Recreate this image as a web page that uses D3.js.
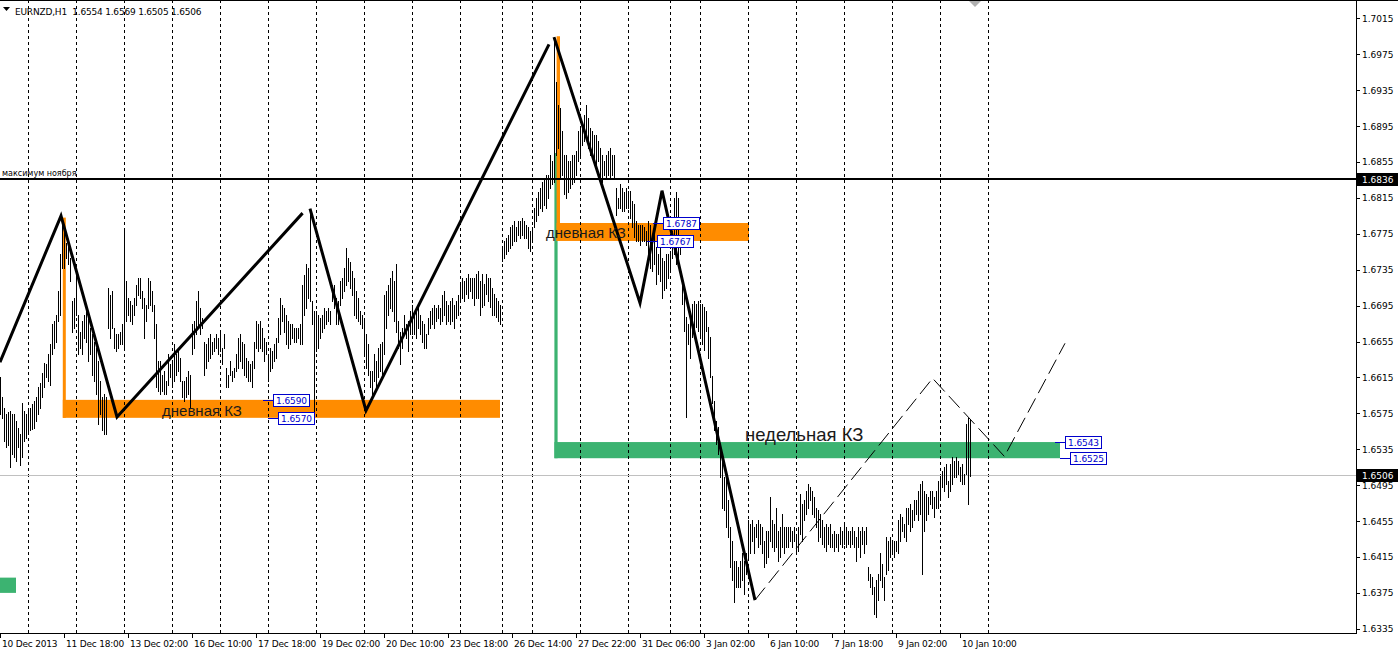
<!DOCTYPE html>
<html><head><meta charset="utf-8">
<script src="https://cdn.jsdelivr.net/npm/d3@7/dist/d3.min.js"></script>
<style>
html,body{margin:0;padding:0;background:#fff;overflow:hidden}
svg{display:block}
</style></head><body>
<script>
// ---------------- data ----------------
const chartTitle = "EURNZD,H1  1.6554 1.6569 1.6505 1.6506";

const barHigh = [
1.6615,1.6593,1.6581,1.6574,1.6576,1.6578,1.6574,1.6574,1.6567,1.6559,
1.6552,1.6587,1.6578,1.6574,1.6578,1.6581,1.6585,1.6589,1.6593,1.6604,
1.6609,1.6620,1.6631,1.6630,1.6641,1.6652,1.6674,1.6678,1.6685,1.6711,
1.6753,1.6792,1.6778,1.6765,1.6763,1.6748,1.6700,1.6703,1.6729,1.6685,
1.6666,1.6678,1.6685,1.6689,1.6681,1.6670,1.6663,1.6655,1.6648,1.6633,
1.6611,1.6593,1.6596,1.6593,1.6715,1.6707,1.6711,1.6670,1.6663,1.6663,
1.6666,1.6674,1.6778,1.6722,1.6703,1.6700,1.6696,1.6703,1.6718,1.6726,
1.6726,1.6711,1.6703,1.6696,1.6726,1.6722,1.6711,1.6696,1.6674,1.6633,
1.6633,1.6618,1.6622,1.6611,1.6641,1.6630,1.6633,1.6652,1.6641,1.6648,
1.6637,1.6611,1.6611,1.6615,1.6622,1.6618,1.6674,1.6678,1.6700,1.6711,
1.6692,1.6681,1.6655,1.6652,1.6659,1.6663,1.6655,1.6659,1.6663,1.6659,
1.6666,1.6648,1.6663,1.6626,1.6618,
1.6633,1.6622,1.6626,1.6641,1.6659,1.6663,1.6655,1.6652,1.6637,1.6633,
1.6630,1.6633,1.6655,1.6678,1.6674,1.6678,1.6670,1.6659,1.6655,1.6641,
1.6648,1.6644,1.6652,1.6659,1.6681,1.6703,1.6696,1.6692,1.6685,1.6678,
1.6674,1.6674,1.6670,1.6670,1.6670,1.6674,1.6718,1.6729,1.6741,1.6737,
1.6802,1.6700,1.6689,1.6689,1.6685,1.6681,1.6685,1.6692,1.6689,1.6692,
1.6689,1.6718,1.6718,1.6703,1.6700,1.6722,1.6726,1.6737,1.6759,1.6748,
1.6744,1.6733,1.6726,1.6711,1.6703,1.6689,1.6685,1.6678,1.6663,1.6652,
1.6622,1.6622,1.6641,1.6633,1.6648,1.6652,1.6655,1.6707,1.6711,1.6718,
1.6726,1.6733,1.6722,1.6741,1.6678,1.6666,1.6670,1.6685,1.6674,1.6678,
1.6689,1.6696,1.6685,1.6689,1.6692,1.6685,1.6678,1.6674,1.6663,1.6681,
1.6689,1.6692,1.6696,1.6692,1.6696,1.6692,1.6707,1.6711,1.6700,1.6696,
1.6700,1.6704,1.6696,1.6700,1.6707,
1.6719,1.6726,1.6722,1.6726,1.6730,1.6726,1.6726,1.6726,1.6730,1.6734,
1.6722,1.6730,1.6719,1.6730,1.6726,1.6726,1.6715,1.6708,1.6704,1.6700,
1.6696,1.6759,1.6767,1.6770,1.6774,1.6782,1.6785,1.6789,1.6782,1.6789,
1.6789,1.6793,1.6789,1.6785,1.6782,1.6778,1.6782,1.6804,1.6815,1.6822,
1.6826,1.6833,1.6837,1.6841,1.6841,1.6863,1.6856,1.6993,1.6944,1.6918,
1.6915,1.6889,1.6863,1.6863,1.6856,1.6856,1.6863,1.6863,1.6867,1.6889,
1.6893,1.6900,1.6907,1.6918,1.6904,1.6893,1.6889,1.6885,1.6885,1.6878,
1.6870,1.6863,1.6856,1.6863,1.6867,1.6870,1.6863,1.6863,1.6826,1.6815,
1.6830,1.6826,1.6822,1.6826,1.6823,1.6823,1.6811,1.6808,1.6789,1.6785,
1.6785,1.6785,1.6782,1.6778,1.6789,1.6785,1.6771,1.6778,1.6760,1.6752,
1.6760,1.6748,1.6745,1.6752,1.6752,1.6756,1.6778,1.6815,1.6822,1.6815,
1.6771,1.6722,1.6711,1.6682,1.6674,1.6689,1.6697,1.6700,1.6697,1.6700,
1.6697,1.6697,1.6693,1.6689,1.6671,1.6660,1.6617,1.6589,1.6566,1.6560,
1.6537,1.6522,1.6504,1.6507,1.6478,1.6448,1.6433,1.6411,1.6411,1.6404,
1.6411,1.6419,1.6411,1.6419,1.6456,1.6452,1.6456,1.6448,1.6452,1.6456,
1.6452,1.6448,1.6433,1.6444,1.6444,1.6482,1.6456,1.6452,1.6470,1.6444,
1.6448,1.6463,1.6448,1.6448,1.6448,1.6448,1.6444,1.6448,1.6441,1.6448,
1.6485,1.6474,1.6478,1.6489,1.6496,1.6493,1.6489,1.6482,1.6470,1.6467,
1.6463,1.6456,1.6448,1.6452,1.6448,1.6452,1.6441,1.6444,1.6441,1.6441,
1.6448,1.6444,1.6452,1.6448,1.6444,1.6444,1.6448,1.6444,1.6437,1.6448,
1.6444,1.6448,1.6444,1.6448,1.6404,1.6396,1.6393,1.6382,1.6389,1.6396,
1.6419,1.6407,1.6393,1.6437,1.6433,1.6437,1.6433,1.6433,1.6433,1.6456,
1.6463,1.6459,1.6452,1.6470,1.6470,1.6474,1.6467,1.6478,1.6478,1.6489,
1.6496,1.6500,1.6489,1.6485,1.6482,1.6489,1.6489,1.6482,1.6489,1.6500,
1.6504,1.6511,1.6515,1.6519,1.6500,1.6519,1.6526,1.6522,1.6526,1.6522,
1.6515,1.6519,1.6507,1.6563,1.6570,1.6569
];

const barLow = [
1.6574,1.6570,1.6544,1.6537,1.6540,1.6515,1.6530,1.6526,1.6522,1.6537,
1.6517,1.6526,1.6544,1.6548,1.6552,1.6556,1.6557,1.6559,1.6567,1.6574,
1.6581,1.6593,1.6604,1.6615,1.6611,1.6607,1.6641,1.6648,1.6655,1.6678,
1.6685,1.6737,1.6737,1.6748,1.6741,1.6722,1.6666,1.6670,1.6685,1.6641,
1.6648,1.6641,1.6659,1.6655,1.6633,1.6641,1.6618,1.6611,1.6596,1.6563,
1.6574,1.6556,1.6552,1.6552,1.6670,1.6659,1.6670,1.6648,1.6644,1.6648,
1.6652,1.6652,1.6648,1.6678,1.6685,1.6678,1.6674,1.6685,1.6696,1.6707,
1.6703,1.6692,1.6659,1.6678,1.6692,1.6696,1.6689,1.6659,1.6604,1.6600,
1.6596,1.6600,1.6596,1.6596,1.6607,1.6615,1.6604,1.6611,1.6618,1.6622,
1.6611,1.6593,1.6589,1.6593,1.6596,1.6581,1.6641,1.6648,1.6663,1.6670,
1.6663,1.6670,1.6618,1.6626,1.6633,1.6637,1.6641,1.6644,1.6648,1.6641,
1.6644,1.6630,1.6648,1.6604,1.6604,
1.6618,1.6611,1.6615,1.6622,1.6626,1.6633,1.6626,1.6618,1.6615,1.6611,
1.6611,1.6604,1.6626,1.6648,1.6644,1.6648,1.6644,1.6633,1.6641,1.6611,
1.6622,1.6626,1.6633,1.6637,1.6655,1.6663,1.6678,1.6666,1.6652,1.6648,
1.6652,1.6659,1.6655,1.6655,1.6659,1.6652,1.6652,1.6685,1.6692,1.6703,
1.6700,1.6674,1.6567,1.6644,1.6648,1.6659,1.6666,1.6670,1.6674,1.6678,
1.6674,1.6700,1.6692,1.6674,1.6674,1.6696,1.6703,1.6711,1.6718,1.6722,
1.6715,1.6707,1.6685,1.6681,1.6678,1.6674,1.6670,1.6641,1.6626,1.6618,
1.6604,1.6596,1.6611,1.6604,1.6615,1.6622,1.6615,1.6641,1.6670,1.6685,
1.6692,1.6689,1.6678,1.6666,1.6648,1.6630,1.6648,1.6663,1.6659,1.6644,
1.6663,1.6663,1.6663,1.6659,1.6670,1.6663,1.6655,1.6648,1.6648,1.6663,
1.6670,1.6674,1.6670,1.6678,1.6681,1.6674,1.6678,1.6685,1.6674,1.6678,
1.6674,1.6678,1.6670,1.6681,1.6685,
1.6700,1.6704,1.6700,1.6708,1.6704,1.6711,1.6704,1.6696,1.6704,1.6704,
1.6685,1.6693,1.6696,1.6708,1.6700,1.6693,1.6685,1.6685,1.6682,1.6678,
1.6674,1.6745,1.6748,1.6752,1.6756,1.6759,1.6763,1.6767,1.6767,1.6774,
1.6770,1.6774,1.6770,1.6770,1.6759,1.6756,1.6767,1.6782,1.6789,1.6796,
1.6804,1.6800,1.6807,1.6804,1.6815,1.6826,1.6830,1.6833,1.6863,1.6870,
1.6837,1.6841,1.6819,1.6815,1.6822,1.6826,1.6830,1.6833,1.6841,1.6856,
1.6863,1.6874,1.6878,1.6885,1.6870,1.6863,1.6863,1.6852,1.6848,1.6856,
1.6837,1.6833,1.6841,1.6837,1.6841,1.6837,1.6841,1.6837,1.6796,1.6804,
1.6804,1.6800,1.6800,1.6804,1.6804,1.6793,1.6782,1.6771,1.6767,1.6767,
1.6763,1.6767,1.6767,1.6763,1.6752,1.6737,1.6734,1.6741,1.6719,1.6730,
1.6722,1.6704,1.6712,1.6715,1.6726,1.6734,1.6748,1.6752,1.6741,1.6748,
1.6752,1.6697,1.6667,1.6571,1.6652,1.6637,1.6660,1.6663,1.6671,1.6667,
1.6660,1.6652,1.6645,1.6667,1.6637,1.6615,1.6586,1.6556,1.6541,1.6530,
1.6504,1.6470,1.6467,1.6448,1.6437,1.6404,1.6389,1.6365,1.6382,1.6382,
1.6382,1.6389,1.6374,1.6396,1.6415,1.6419,1.6433,1.6419,1.6437,1.6426,
1.6430,1.6419,1.6404,1.6408,1.6415,1.6433,1.6426,1.6422,1.6426,1.6411,
1.6415,1.6426,1.6419,1.6426,1.6426,1.6433,1.6426,1.6433,1.6422,1.6422,
1.6441,1.6433,1.6456,1.6463,1.6470,1.6478,1.6463,1.6459,1.6448,1.6433,
1.6437,1.6430,1.6426,1.6422,1.6430,1.6426,1.6426,1.6422,1.6426,1.6422,
1.6430,1.6426,1.6430,1.6426,1.6430,1.6426,1.6430,1.6426,1.6411,1.6426,
1.6415,1.6430,1.6419,1.6430,1.6389,1.6382,1.6374,1.6352,1.6348,1.6367,
1.6389,1.6382,1.6367,1.6396,1.6400,1.6415,1.6419,1.6415,1.6422,1.6419,
1.6433,1.6444,1.6437,1.6433,1.6452,1.6444,1.6448,1.6456,1.6463,1.6456,
1.6463,1.6396,1.6444,1.6456,1.6463,1.6474,1.6470,1.6459,1.6470,1.6470,
1.6478,1.6493,1.6489,1.6496,1.6482,1.6489,1.6496,1.6504,1.6504,1.6507,
1.6500,1.6496,1.6496,1.6507,1.6474,1.6505
];

const timeLabels = ["10 Dec 2013","11 Dec 18:00","13 Dec 02:00","16 Dec 10:00","17 Dec 18:00",
  "19 Dec 02:00","20 Dec 10:00","23 Dec 18:00","26 Dec 14:00","27 Dec 22:00","31 Dec 06:00",
  "3 Jan 02:00","6 Jan 10:00","7 Jan 18:00","9 Jan 02:00","10 Jan 10:00"];
const timeLabelBars = [0,32,64,96,128,160,192,224,256,288,320,352,384,416,448,480];
const dayStartBars = [14,38,62,86,110,134,158,182,206,230,251,266,290,314,335,350,374,398,422,446,470,494];
const priceTicks = [1.7015,1.6975,1.6935,1.6895,1.6855,1.6815,1.6775,1.6735,1.6695,1.6655,
  1.6615,1.6575,1.6535,1.6495,1.6455,1.6415,1.6375,1.6335];

const novemberHigh = 1.6836;
const lastBid = 1.6506;

// hand-drawn trend lines (bar index, price)
const zigzagA = [[0,1.6632],[30.5,1.6795],[58.5,1.6571],[151.3,1.6798]];
const zigzagB = [[155,1.6803],[183,1.6578],[274.5,1.6986]];
const zigzagC = [[277,1.6994],[320,1.6698],[331,1.6823],[377.5,1.6367]];
const projection = [[377.5,1.6367],[466.3,1.6614],[502.2,1.6527],[532.5,1.6653]];

// zones: [barFrom, barTo, priceTop, priceBottom]
const orangeZones = [[31.4,32.9,1.6793,1.6570],[31.4,250,1.6590,1.6570],
                     [278.3,280,1.6995,1.6767],[278.3,374.5,1.6787,1.6767]];
const greenZones  = [[277.2,278.8,1.6865,1.6525],[277.2,530,1.6543,1.6525],[0,8,1.6392,1.6375]];

// price labels: [bar of stem start, price, text]
const priceLabels = [[131.5,1.6590,"1.6590"],[134,1.6570,"1.6570"],
                     [326.5,1.6787,"1.6787"],[323.5,1.6767,"1.6767"],
                     [527.5,1.6543,"1.6543"],[530,1.6525,"1.6525"]];
const zoneTexts = [[81,1.6572,"дневная КЗ",15],[273,1.6770,"дневная КЗ",15],[372.5,1.6544,"недельная КЗ",18.5]];

// ---------------- drawing ----------------
const W = 1398, H = 652, plotR = 1356, plotB = 633;
const x = d3.scaleLinear().domain([0, 678]).range([0, plotR]);
const y = d3.scaleLinear().domain([1.6335, 1.7015]).range([628.8, 18.3]);

const svg = d3.select("body").append("svg").attr("width", W).attr("height", H)
  .style("font-family", "'DejaVu Sans', sans-serif");
svg.append("rect").attr("width", W).attr("height", H).attr("fill", "#fff");

const defs = svg.append("defs");
defs.append("clipPath").attr("id", "plot").append("rect").attr("x", 0).attr("y", 0).attr("width", plotR).attr("height", plotB);
const plot = svg.append("g").attr("clip-path", "url(#plot)");

// zones (background objects)
const zoneRect = (g, arr, col) => g.selectAll(null).data(arr).join("rect")
  .attr("x", d => x(d[0])).attr("width", d => x(d[1]) - x(d[0]))
  .attr("y", d => y(d[2])).attr("height", d => y(d[3]) - y(d[2]))
  .attr("fill", col);
zoneRect(plot.append("g"), greenZones, "#3cb371");
zoneRect(plot.append("g"), orangeZones, "#ff8c00");

// vertical day grid
plot.append("g").selectAll("line").data(dayStartBars).join("line")
  .attr("x1", d => Math.round(x(d)) + 0.5).attr("x2", d => Math.round(x(d)) + 0.5)
  .attr("y1", 0).attr("y2", plotB)
  .attr("stroke", "#000").attr("stroke-width", 1).attr("stroke-dasharray", "3,3")
  .attr("shape-rendering", "crispEdges");

// bid line
plot.append("line").attr("x1", 0).attr("x2", plotR).attr("y1", Math.round(y(lastBid)) + 0.5).attr("y2", Math.round(y(lastBid)) + 0.5)
  .attr("stroke", "#c0c0c0").attr("shape-rendering", "crispEdges");

// bars
plot.append("g").selectAll("line").data(barHigh).join("line")
  .attr("x1", (d, i) => Math.round(x(i)) + 0.5).attr("x2", (d, i) => Math.round(x(i)) + 0.5)
  .attr("y1", d => Math.round(y(d)))
  .attr("y2", (d, i) => Math.round(y(barLow[i])) + 1)
  .attr("stroke", "#000").attr("stroke-width", 1).attr("shape-rendering", "crispEdges");

// November high line
const yNov = y(novemberHigh);
plot.append("line").attr("x1", 0).attr("x2", plotR).attr("y1", yNov).attr("y2", yNov)
  .attr("stroke", "#000").attr("stroke-width", 2);
plot.append("text").attr("x", 2).attr("y", yNov - 3).attr("font-size", 8).attr("fill", "#000")
  .text("максимум ноября");

// trend lines
const lineGen = d3.line().x(d => x(d[0])).y(d => y(d[1]));
[zigzagA, zigzagB, zigzagC].forEach(pts => {
  plot.append("path").attr("d", lineGen(pts)).attr("fill", "none")
    .attr("stroke", "#000").attr("stroke-width", 3).attr("stroke-linejoin", "miter");
});
plot.append("path").attr("d", lineGen(projection)).attr("fill", "none")
  .attr("stroke", "#000").attr("stroke-width", 1).attr("stroke-dasharray", "16,6");

// zone texts
plot.append("g").selectAll("text").data(zoneTexts).join("text")
  .attr("x", d => x(d[0])).attr("y", d => y(d[1]))
  .attr("font-family", "'Liberation Sans', Arial, sans-serif")
  .attr("font-size", d => d[3]).attr("fill", "#1a1a1a").text(d => d[2]);

// price labels
const pl = plot.append("g").selectAll("g").data(priceLabels).join("g")
  .attr("transform", d => `translate(${Math.round(x(d[0]))},${Math.round(y(d[1]))})`);
pl.append("line").attr("x1", 0).attr("x2", 10).attr("y1", 0.5).attr("y2", 0.5)
  .attr("stroke", "#0000cc").attr("shape-rendering", "crispEdges");
pl.append("rect").attr("x", 10.5).attr("y", -5.5).attr("width", 36).attr("height", 12)
  .attr("fill", "#fff").attr("stroke", "#0000cc").attr("shape-rendering", "crispEdges");
pl.append("text").attr("x", 13).attr("y", 4).attr("font-size", 9).attr("fill", "#0000cc")
  .attr("letter-spacing", "-0.1").text(d => d[2]);

// frame
svg.append("line").attr("x1", 0).attr("x2", W).attr("y1", 0.5).attr("y2", 0.5).attr("stroke", "#000").attr("shape-rendering", "crispEdges");
svg.append("line").attr("x1", plotR + 0.5).attr("x2", plotR + 0.5).attr("y1", 0).attr("y2", plotB + 1).attr("stroke", "#000").attr("shape-rendering", "crispEdges");
svg.append("line").attr("x1", 0).attr("x2", plotR + 1).attr("y1", plotB + 0.5).attr("y2", plotB + 0.5).attr("stroke", "#000").attr("shape-rendering", "crispEdges");

// right price axis
const ax = svg.append("g");
ax.selectAll("line").data(priceTicks).join("line")
  .attr("x1", plotR).attr("x2", plotR + 4)
  .attr("y1", d => Math.round(y(d)) + 0.5).attr("y2", d => Math.round(y(d)) + 0.5)
  .attr("stroke", "#000").attr("shape-rendering", "crispEdges");
ax.selectAll("text").data(priceTicks).join("text")
  .attr("x", plotR + 6).attr("y", d => y(d) + 3.5)
  .attr("font-size", 9).attr("fill", "#000").text(d => d.toFixed(4));
[novemberHigh, lastBid].forEach(p => {
  const g = svg.append("g");
  g.append("rect").attr("x", plotR + 1).attr("y", Math.round(y(p)) - 6).attr("width", W - plotR - 1).attr("height", 13).attr("fill", "#000");
  g.append("text").attr("x", plotR + 6).attr("y", y(p) + 3.5).attr("font-size", 9).attr("fill", "#fff").text(p.toFixed(4));
});

// time axis
const tx = svg.append("g");
tx.selectAll("line").data(timeLabelBars).join("line")
  .attr("x1", d => Math.round(x(d)) + 0.5).attr("x2", d => Math.round(x(d)) + 0.5)
  .attr("y1", plotB).attr("y2", plotB + 5)
  .attr("stroke", "#000").attr("shape-rendering", "crispEdges");
tx.selectAll("text").data(timeLabelBars).join("text")
  .attr("x", d => Math.round(x(d)) + 2).attr("y", 647)
  .attr("font-size", 9).attr("letter-spacing", "-0.2").attr("fill", "#000")
  .text((d, i) => timeLabels[i]);

// title
svg.append("path").attr("d", "M3,7 L10,7 L6.5,11 Z").attr("fill", "#000");
svg.append("text").attr("x", 15).attr("y", 15).attr("font-size", 9).attr("letter-spacing", "-0.2")
  .attr("fill", "#000").attr("xml:space", "preserve").style("white-space", "pre").text(chartTitle);

// chart shift marker
svg.append("path").attr("d", `M${x(484.5)},1 L${x(490.5)},1 L${x(487.5)},7 Z`).attr("fill", "#b0b0b0");
</script>
</body></html>
